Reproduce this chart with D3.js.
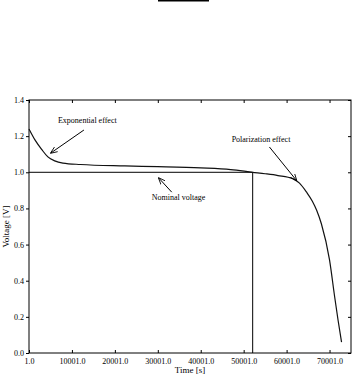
<!DOCTYPE html>
<html>
<head>
<meta charset="utf-8">
<script src="https://cdn.jsdelivr.net/npm/d3@7"></script>
<style>
  body { margin: 0; background: #fff; }
  svg { display: block; }
  text { font-family: "Liberation Serif", "DejaVu Serif", serif; fill: #000; }
</style>
</head>
<body>
<div id="chart"></div>
<script>
// discharge curve
var timeS   = [1, 1500, 3000, 4400, 6000, 7900, 12000, 22300, 30000, 40000, 47000, 52100, 55000, 58000, 61400, 63000, 64650, 66000, 67000, 68100, 70000, 71200, 72000, 72800]
var voltage = [1.24, 1.175, 1.125, 1.085, 1.063, 1.051, 1.043, 1.035, 1.031, 1.024, 1.015, 1.0, 0.992, 0.982, 0.965, 0.94, 0.89, 0.84, 0.79, 0.715, 0.515, 0.31, 0.18, 0.06]

// nominal voltage marker
var nominalT = [1, 52100, 52100]
var nominalV = [1.0, 1.0, 0.0]

var xTicks = [1, 10001, 20001, 30001, 40001, 50001, 60001, 70001]
var yTicks = [0, 0.2, 0.4, 0.6, 0.8, 1.0, 1.2, 1.4]

var noteText = ["Exponential effect", "Polarization effect", "Nominal voltage"]
var noteAt   = [[6745, 1.27], [47200, 1.165], [28600, 0.845]]
var arrowFrom = [[12800, 1.234], [56000, 1.14], [33250, 0.89]]
var arrowTo   = [[5100, 1.107], [62300, 0.955], [30230, 0.968]]

var canvas = ({width: 354, height: 375})
var margin = ({top: 100, right: 3, bottom: 22, left: 29})

var x = d3.scaleLinear()
    .domain([1, 75001])
    .range([margin.left, canvas.width - margin.right])

var y = d3.scaleLinear()
    .domain([0, 1.4])
    .range([canvas.height - margin.bottom, margin.top])

var svg = d3.select("#chart").append("svg")
    .attr("width", canvas.width)
    .attr("height", canvas.height)

svg.append("defs").append("marker")
    .attr("id", "head")
    .attr("viewBox", "0 0 10 10")
    .attr("refX", 9).attr("refY", 5)
    .attr("markerWidth", 7).attr("markerHeight", 7)
    .attr("orient", "auto")
  .append("path")
    .attr("d", "M0,1 L10,5 L0,9")
    .attr("fill", "none")
    .attr("stroke", "#000")
    .attr("stroke-width", 1.2)

// title rule at the very top
svg.append("line")
    .attr("x1", 158).attr("x2", 209)
    .attr("y1", 0.5).attr("y2", 0.5)
    .attr("stroke", "#000").attr("stroke-width", 2)

// axes
var fmtX = d => d3.format(".1f")(d)
svg.append("g")
    .attr("transform", `translate(0,${y(0)})`)
    .call(d3.axisBottom(x).tickValues(xTicks).tickFormat(fmtX).tickSizeInner(-3).tickSizeOuter(0).tickPadding(5))
    .call(g => g.select(".domain").remove())

svg.append("g")
    .attr("transform", `translate(0,${y(1.4)})`)
    .call(d3.axisTop(x).tickValues(xTicks).tickFormat("").tickSizeInner(-3).tickSizeOuter(0))
    .call(g => g.select(".domain").remove())

svg.append("g")
    .attr("transform", `translate(${x(1)},0)`)
    .call(d3.axisLeft(y).tickValues(yTicks).tickFormat(d3.format(".1f")).tickSize(3).tickPadding(2))
    .call(g => g.select(".domain").remove())

svg.append("g")
    .attr("transform", `translate(${x(75001)},0)`)
    .call(d3.axisRight(y).tickValues(yTicks).tickFormat("").tickSize(-3))
    .call(g => g.select(".domain").remove())

svg.selectAll(".tick text").attr("font-size", 8).attr("font-family", "Liberation Serif").attr("fill", "#000")

svg.append("rect")
    .attr("x", x(1)).attr("y", y(1.4))
    .attr("width", x(75001) - x(1))
    .attr("height", y(0) - y(1.4))
    .attr("fill", "none")
    .attr("stroke", "#000")
    .attr("stroke-width", 1)

// nominal voltage lines
var line = d3.line()
    .x(d => x(d[0]))
    .y(d => y(d[1]))

svg.append("path")
    .attr("fill", "none")
    .attr("stroke", "#000")
    .attr("stroke-width", 1)
    .attr("d", line(d3.zip(nominalT, nominalV)))

// discharge curve
svg.append("path")
    .attr("fill", "none")
    .attr("stroke", "#111")
    .attr("stroke-width", 1.2)
    .attr("stroke-linejoin", "round")
    .attr("d", line.curve(d3.curveMonotoneX)(d3.zip(timeS, voltage)))

// annotations
noteText.forEach(function(t, i) {
    svg.append("text")
        .attr("x", x(noteAt[i][0]))
        .attr("y", y(noteAt[i][1]))
        .attr("font-size", 8)
        .text(t)
    svg.append("line")
        .attr("x1", x(arrowFrom[i][0])).attr("y1", y(arrowFrom[i][1]))
        .attr("x2", x(arrowTo[i][0])).attr("y2", y(arrowTo[i][1]))
        .attr("stroke", "#000")
        .attr("stroke-width", 1)
        .attr("marker-end", "url(#head)")
})

// axis titles
svg.append("text")
    .attr("x", (x(1) + x(75001)) / 2)
    .attr("y", 373)
    .attr("text-anchor", "middle")
    .attr("font-size", 9)
    .text("Time [s]")

svg.append("text")
    .attr("transform", `translate(9,${(y(0) + y(1.4)) / 2}) rotate(-90)`)
    .attr("text-anchor", "middle")
    .attr("font-size", 9)
    .text("Voltage [V]")
</script>
</body>
</html>
